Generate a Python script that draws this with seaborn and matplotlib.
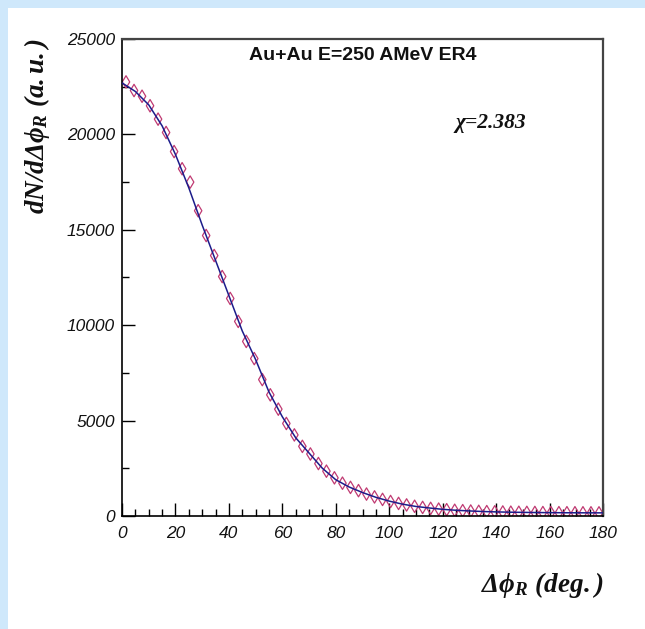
import matplotlib
matplotlib.use("Agg")
import matplotlib.pyplot as plt
from matplotlib.patches import Rectangle
from matplotlib.ticker import MultipleLocator
import numpy as np
import pandas as pd
import seaborn as sns

# ---- data ----
bin_centers = [1.5, 4.5, 7.5, 10.5, 13.5, 16.5, 19.5, 22.5, 25.5, 28.5,
               31.5, 34.5, 37.5, 40.5, 43.5, 46.5, 49.5, 52.5, 55.5, 58.5,
               61.5, 64.5, 67.5, 70.5, 73.5, 76.5, 79.5, 82.5, 85.5, 88.5,
               91.5, 94.5, 97.5, 100.5, 103.5, 106.5, 109.5, 112.5, 115.5, 118.5,
               121.5, 124.5, 127.5, 130.5, 133.5, 136.5, 139.5, 142.5, 145.5, 148.5,
               151.5, 154.5, 157.5, 160.5, 163.5, 166.5, 169.5, 172.5, 175.5, 178.5]
counts = [22750, 22300, 22000, 21500, 20800, 20100, 19100, 18200, 17500, 16000,
          14700, 13650, 12550, 11400, 10200, 9150, 8250, 7150, 6350, 5600,
          4850, 4250, 3650, 3250, 2750, 2350, 2000, 1720, 1500, 1330,
          1150, 1000, 870, 760, 660, 580, 510, 450, 400, 360,
          330, 300, 280, 260, 245, 230, 220, 210, 200, 195,
          190, 185, 180, 178, 175, 172, 170, 168, 166, 165]

fit_x = [0, 5, 10, 15, 20, 25, 30, 35, 40, 45, 50, 55, 60, 65, 70, 75, 80, 85, 90,
         95, 100, 105, 110, 115, 120, 125, 130, 135, 140, 145, 150, 155, 160, 165,
         170, 175, 180]
fit_y = [22700, 22250, 21550, 20450, 18950, 17200, 15250, 13400, 11550, 9700,
         8200, 6500, 5200, 4100, 3300, 2500, 1900, 1520, 1230, 980, 780, 620, 500,
         420, 350, 300, 265, 235, 215, 200, 190, 182, 176, 171, 168, 166, 165]

xtick_vals = [0, 20, 40, 60, 80, 100, 120, 140, 160, 180]
ytick_vals = [0, 5000, 10000, 15000, 20000, 25000]

title_text = "Au+Au E=250 AMeV ER4"
chi_text = "\u03c7=2.383"

pts = pd.DataFrame({"x": bin_centers, "y": counts})
fit = pd.DataFrame({"x": fit_x, "y": fit_y})

sns.set_theme(style="ticks")
plt.rcParams["font.family"] = ["Liberation Sans", "DejaVu Sans"]
plt.rcParams["mathtext.fontset"] = "custom"
plt.rcParams["mathtext.rm"] = "Liberation Serif:bold:italic"
plt.rcParams["mathtext.it"] = "Liberation Serif:bold:italic"
plt.rcParams["mathtext.bf"] = "Liberation Serif:bold:italic"

fig = plt.figure(figsize=(6.45, 6.29), dpi=100)
fig.patch.set_facecolor("white")
blue = "#cfe8fb"
fig.patches.append(Rectangle((0, 0), 8 / 645, 1, transform=fig.transFigure,
                             facecolor=blue, edgecolor="none", zorder=0))
fig.patches.append(Rectangle((0, 1 - 8 / 629), 1, 8 / 629, transform=fig.transFigure,
                             facecolor=blue, edgecolor="none", zorder=0))

ax = fig.add_axes([122 / 645, 1 - 516 / 629, 481 / 645, 477 / 629])
ax.set_facecolor("white")

sns.scatterplot(data=pts, x="x", y="y", ax=ax, marker="d", s=40,
                facecolors="none", edgecolor="#c03a72", linewidth=0.9, zorder=2)
sns.lineplot(data=fit, x="x", y="y", ax=ax, color="#1c1c8a", linewidth=1.1,
             estimator=None, sort=False, zorder=3)

ax.set_xlim(0, 180)
ax.set_ylim(0, 25000)
ax.set_xticks(xtick_vals)
ax.set_xticklabels([str(v) for v in xtick_vals])
ax.set_yticks(ytick_vals)
ax.set_yticklabels([str(v) for v in ytick_vals])
ax.xaxis.set_minor_locator(MultipleLocator(5))
ax.yaxis.set_minor_locator(MultipleLocator(2500))

ax.tick_params(axis="x", which="major", direction="in", length=9.4, width=1.0,
               color="black", pad=7, top=False)
ax.tick_params(axis="x", which="minor", direction="in", length=4.7, width=1.0,
               color="black", top=False)
ax.tick_params(axis="y", which="major", direction="in", length=9.4, width=1.0,
               color="black", pad=5, right=False)
ax.tick_params(axis="y", which="minor", direction="in", length=5.0, width=1.0,
               color="black", right=False)
for lab in ax.get_xticklabels() + ax.get_yticklabels():
    lab.set_fontstyle("italic")
    lab.set_fontsize(12.5)
    lab.set_color("#111111")

for s in ["left", "bottom"]:
    ax.spines[s].set_color("black")
    ax.spines[s].set_linewidth(1.2)
for s in ["top", "right"]:
    ax.spines[s].set_visible(True)
    ax.spines[s].set_color("#444444")
    ax.spines[s].set_linewidth(1.6)

ax.set_xlabel("")
ax.set_ylabel("")

ax.text(0.5, 0.966, title_text, transform=ax.transAxes, ha="center", va="center",
        fontsize=14, fontweight="bold", color="#111111")
ax.text(0.767, 0.824, chi_text, transform=ax.transAxes, ha="center", va="center",
        fontsize=15.5, fontweight="bold", fontstyle="italic",
        family=["Liberation Serif", "DejaVu Serif"], color="#111111")

fig.text(37 / 645, 1 - 38 / 629, r"$dN/d\Delta\phi_R\ (a.u.)$", rotation=90,
         ha="center", va="top", fontsize=19.5, color="#111111")
fig.text(603 / 645, 1 - 585 / 629, r"$\Delta\phi_R\ (deg.)$",
         ha="right", va="center", fontsize=19.5, color="#111111")

fig.savefig("out.png", dpi=100)
